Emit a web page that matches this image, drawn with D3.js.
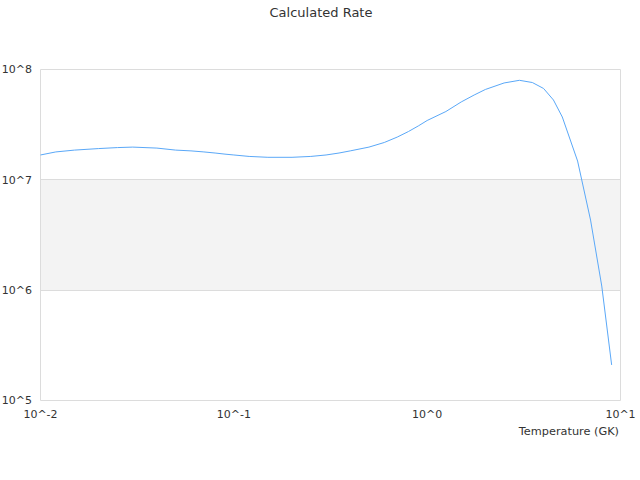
<!DOCTYPE html>
<html>
<head>
<meta charset="utf-8">
<script src="https://cdn.jsdelivr.net/npm/d3@7/dist/d3.min.js"></script>
<style>
  html, body { margin: 0; padding: 0; background: #fff; }
  text { font-family: "DejaVu Sans", sans-serif; fill: #333; }
</style>
</head>
<body>
<svg id="chart" width="640" height="480"></svg>
<script>
// Temperature grid (GK)
const temperatures = [0.01, 0.012, 0.015, 0.02, 0.025, 0.03, 0.04, 0.05, 0.06, 0.07, 0.08, 0.09,
  0.1, 0.12, 0.15, 0.2, 0.25, 0.3, 0.35, 0.4, 0.5, 0.6, 0.7, 0.8, 0.9,
  1, 1.25, 1.5, 1.75, 2, 2.5, 3, 3.5, 4, 4.5, 5, 6, 7, 8, 9];
// Calculated rate values
const rates = [1.68e7, 1.79e7, 1.86e7, 1.92e7, 1.96e7, 1.98e7, 1.94e7, 1.86e7, 1.83e7, 1.79e7, 1.75e7, 1.71e7,
  1.68e7, 1.63e7, 1.60e7, 1.60e7, 1.63e7, 1.68e7, 1.75e7, 1.83e7, 1.98e7, 2.18e7, 2.44e7, 2.74e7, 3.08e7,
  3.45e7, 4.16e7, 5.08e7, 5.87e7, 6.59e7, 7.55e7, 7.98e7, 7.62e7, 6.73e7, 5.29e7, 3.71e7, 1.48e7, 4.32e6, 1.09e6, 2.10e5];
const xTicks = [0.01, 0.1, 1, 10];
const xTickLabels = ["10^-2", "10^-1", "10^0", "10^1"];
const yTicks = [1e5, 1e6, 1e7, 1e8];
const yTickLabels = ["10^5", "10^6", "10^7", "10^8"];
const title = "Calculated Rate";
const xTitle = "Temperature (GK)";

(function () {
const svg = d3.select("#chart");
const pl = 40.5, pr = 620.5, pt = 69.5, pb = 400.5;

const x = d3.scaleLog().domain([0.01, 10]).range([pl, pr]);
const y = d3.scaleLog().domain([1e5, 1e8]).range([pb, pt]);

// alternating bands
for (let i = 0; i < yTicks.length - 1; i++) {
  if (i % 2 === 1) {
    svg.append("rect")
      .attr("x", pl).attr("width", pr - pl)
      .attr("y", y(yTicks[i + 1])).attr("height", y(yTicks[i]) - y(yTicks[i + 1]))
      .attr("fill", "#f3f3f3");
  }
}

// horizontal grid lines
svg.append("g").selectAll("line").data(yTicks).join("line")
  .attr("x1", pl).attr("x2", pr)
  .attr("y1", d => Math.floor(y(d)) + 0.5).attr("y2", d => Math.floor(y(d)) + 0.5)
  .attr("stroke", "#dcdcdc").attr("stroke-width", 1);

// vertical border lines
svg.append("g").selectAll("line").data([0.01, 10]).join("line")
  .attr("x1", d => x(d)).attr("x2", d => x(d))
  .attr("y1", pt).attr("y2", pb)
  .attr("stroke", "#dcdcdc").attr("stroke-width", 1);

// y labels
svg.append("g").selectAll("text").data(yTicks).join("text")
  .attr("x", 32).attr("y", d => y(d))
  .attr("dy", "0.35em")
  .attr("text-anchor", "end")
  .attr("font-size", 11)
  .text((d, i) => yTickLabels[i]);

// x labels
svg.append("g").selectAll("text").data(xTicks).join("text")
  .attr("x", d => x(d)).attr("y", 418)
  .attr("text-anchor", "middle")
  .attr("font-size", 11)
  .text((d, i) => xTickLabels[i]);

// title
svg.append("text").attr("x", 321).attr("y", 16.5)
  .attr("text-anchor", "middle").attr("font-size", 13).text(title);

// x axis title
svg.append("text").attr("x", 619).attr("y", 434.5)
  .attr("text-anchor", "end").attr("font-size", 11.3).text(xTitle);

// line
const line = d3.line().x((d, i) => x(temperatures[i])).y(d => y(d));
svg.append("path").datum(rates)
  .attr("d", line)
  .attr("fill", "none")
  .attr("stroke", "#5aa8f8")
  .attr("stroke-width", 1);
})();
</script>
</body>
</html>
